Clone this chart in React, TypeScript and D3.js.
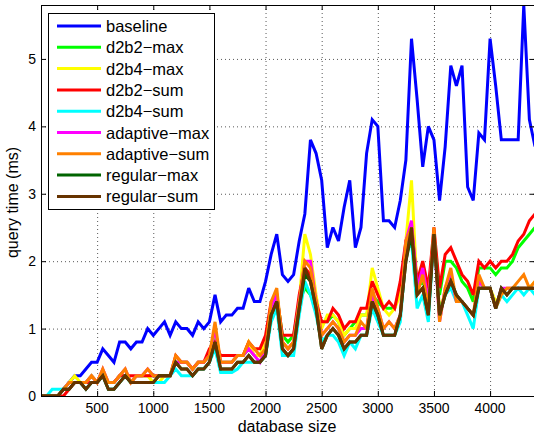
import React from "react";
import * as d3 from "d3";

// database sizes (x)
const sizes = [
  0, 50, 100, 150, 200, 250, 300, 350, 400, 450,
  500, 550, 600, 650, 700, 750, 800, 850, 900, 950,
  1000, 1050, 1100, 1150, 1200, 1250, 1300, 1350, 1400, 1450,
  1500, 1550, 1600, 1650, 1700, 1750, 1800, 1850, 1900, 1950,
  2000, 2050, 2100, 2150, 2200, 2250, 2300, 2350, 2400, 2450,
  2500, 2550, 2600, 2650, 2700, 2750, 2800, 2850, 2900, 2950,
  3000, 3050, 3100, 3150, 3200, 3250, 3300, 3350, 3400, 3450,
  3500, 3550, 3600, 3650, 3700, 3750, 3800, 3850, 3900, 3950,
  4000, 4050, 4100, 4150, 4200, 4250, 4300, 4350, 4400,
];

const baseline = [
  0, 0, 0, 0, 0.1, 0.2, 0.3, 0.3, 0.4, 0.5,
  0.5, 0.7, 0.6, 0.5, 0.8, 0.8, 0.7, 0.8, 0.8, 1.0,
  0.9, 1.0, 1.1, 0.9, 1.1, 1.0, 1.0, 0.9, 1.1, 1.0,
  1.1, 1.5, 1.1, 1.2, 1.2, 1.3, 1.3, 1.6, 1.4, 1.4,
  1.7, 2.1, 2.4, 1.8, 1.7, 1.8, 2.3, 2.7, 3.8, 3.6,
  3.2, 2.2, 2.5, 2.3, 2.8, 3.2, 2.2, 2.5, 3.6, 4.1,
  4.0, 2.6, 2.6, 2.5, 2.9, 3.5, 5.3, 4.4, 3.4, 4.0,
  3.8, 2.9, 3.7, 4.9, 4.6, 4.9, 3.1, 2.9, 3.9, 3.8,
  5.3, 4.6, 3.8, 3.8, 3.8, 3.8, 5.8, 4.1, 3.7,
];

const d2b2Max = [
  0, 0, 0, 0, 0.1, 0.2, 0.2, 0.2, 0.2, 0.3,
  0.2, 0.3, 0.2, 0.2, 0.3, 0.3, 0.2, 0.3, 0.3, 0.3,
  0.3, 0.3, 0.3, 0.3, 0.5, 0.5, 0.5, 0.4, 0.5, 0.5,
  0.6, 0.9, 0.5, 0.5, 0.5, 0.6, 0.6, 0.7, 0.6, 0.6,
  0.8, 1.3, 1.5, 0.9, 0.8, 0.9, 1.4, 1.6, 1.5, 1.3,
  1.1, 1.1, 1.2, 1.1, 0.9, 1.0, 1.1, 1.2, 1.2, 1.5,
  1.4, 1.3, 1.3, 1.3, 1.6, 2.2, 2.4, 1.6, 1.7, 1.5,
  2.4, 1.5, 2.0, 2.0, 1.9, 1.7, 1.6, 1.4, 1.9, 1.9,
  1.9, 1.8, 1.9, 1.9, 2.0, 2.2, 2.3, 2.4, 2.5,
];

const d2b4Max = [
  0, 0, 0, 0, 0.1, 0.2, 0.3, 0.2, 0.2, 0.3,
  0.2, 0.4, 0.2, 0.2, 0.3, 0.4, 0.2, 0.3, 0.3, 0.3,
  0.2, 0.2, 0.3, 0.3, 0.5, 0.5, 0.5, 0.4, 0.5, 0.5,
  0.6, 1.0, 0.5, 0.5, 0.5, 0.6, 0.6, 0.8, 0.6, 0.6,
  0.8, 1.3, 1.5, 0.8, 0.7, 0.8, 1.4, 2.4, 2.1, 1.5,
  1.0, 1.2, 1.2, 1.1, 0.9, 1.0, 1.0, 1.2, 1.2, 1.9,
  1.6, 1.3, 1.2, 1.3, 1.5, 2.3, 3.2, 1.6, 1.8, 1.4,
  2.4, 1.3, 1.5, 1.7, 1.4, 1.4, 1.3, 1.2, 1.7, 1.6,
  1.6, 1.4, 1.5, 1.6, 1.6, 1.6, 1.6, 1.6, 1.7,
];

const d2b2Sum = [
  0, 0, 0, 0, 0, 0.1, 0.2, 0.2, 0.2, 0.2,
  0.2, 0.3, 0.2, 0.2, 0.3, 0.3, 0.3, 0.3, 0.3, 0.3,
  0.3, 0.3, 0.3, 0.3, 0.6, 0.5, 0.5, 0.4, 0.5, 0.5,
  0.7, 0.8, 0.6, 0.6, 0.6, 0.6, 0.6, 0.8, 0.7, 0.7,
  0.9, 1.4, 1.5, 0.9, 0.9, 0.9, 1.5, 1.9, 1.8, 1.4,
  1.1, 1.1, 1.3, 1.2, 1.0, 1.1, 1.1, 1.3, 1.3, 1.7,
  1.5, 1.3, 1.4, 1.3, 1.7, 2.3, 2.5, 1.7, 2.0, 1.6,
  2.5, 1.6, 2.1, 2.2, 2.0, 1.8, 1.7, 1.5, 2.0, 1.9,
  2.0, 1.9, 2.0, 2.0, 2.1, 2.3, 2.4, 2.6, 2.7,
];

const d2b4Sum = [
  0, 0, 0.1, 0.1, 0.1, 0.2, 0.2, 0.2, 0.1, 0.2,
  0.2, 0.3, 0.1, 0.1, 0.2, 0.3, 0.2, 0.2, 0.2, 0.2,
  0.2, 0.2, 0.2, 0.3, 0.4, 0.3, 0.3, 0.3, 0.4, 0.4,
  0.5, 0.7, 0.35, 0.35, 0.35, 0.4, 0.5, 0.5, 0.5, 0.5,
  0.6, 1.1, 1.3, 0.6, 0.6, 0.6, 1.2, 1.7, 1.5, 1.2,
  0.8, 0.9, 0.9, 0.8, 0.6, 0.8, 0.7, 0.9, 0.9, 1.3,
  1.1, 0.9, 0.9, 0.9, 1.1, 2.1, 2.3, 1.3, 1.5, 1.1,
  2.4, 1.2, 1.5, 1.6, 1.4, 1.4, 1.2, 1.0, 1.6, 1.6,
  1.6, 1.3, 1.5, 1.4, 1.5, 1.6, 1.5, 1.6, 1.5,
];

const adaptiveMax = [
  0, 0, 0, 0, 0.1, 0.2, 0.2, 0.2, 0.2, 0.3,
  0.2, 0.4, 0.2, 0.2, 0.3, 0.4, 0.2, 0.3, 0.3, 0.4,
  0.3, 0.3, 0.3, 0.3, 0.5, 0.5, 0.5, 0.4, 0.5, 0.5,
  0.6, 1.0, 0.5, 0.5, 0.5, 0.6, 0.6, 0.7, 0.6, 0.5,
  0.7, 1.3, 1.5, 0.8, 0.7, 0.8, 1.4, 2.0, 2.0, 1.4,
  0.9, 1.0, 1.1, 1.0, 0.8, 0.9, 0.9, 1.0, 1.0, 1.5,
  1.3, 1.0, 1.1, 1.0, 1.2, 2.3, 2.6, 1.6, 1.9, 1.4,
  2.4, 1.1, 1.6, 1.8, 1.4, 1.4, 1.3, 1.2, 1.7, 1.6,
  1.6, 1.3, 1.6, 1.6, 1.6, 1.6, 1.6, 1.6, 1.6,
];

const adaptiveSum = [
  0, 0, 0, 0, 0.1, 0.2, 0.2, 0.2, 0.2, 0.3,
  0.2, 0.4, 0.2, 0.2, 0.3, 0.4, 0.2, 0.3, 0.3, 0.4,
  0.3, 0.3, 0.3, 0.3, 0.6, 0.5, 0.5, 0.4, 0.5, 0.5,
  0.6, 1.1, 0.5, 0.5, 0.5, 0.6, 0.6, 0.8, 0.7, 0.6,
  0.7, 1.4, 1.6, 0.8, 0.7, 0.8, 1.4, 2.0, 1.9, 1.4,
  0.9, 1.0, 1.1, 1.0, 0.8, 0.9, 0.9, 1.1, 1.0, 1.6,
  1.3, 1.0, 1.1, 1.0, 1.2, 2.3, 2.5, 1.5, 1.8, 1.3,
  2.5, 1.1, 1.6, 1.9, 1.4, 1.4, 1.3, 1.2, 1.8, 1.6,
  1.6, 1.3, 1.5, 1.6, 1.6, 1.7, 1.8, 1.6, 1.7,
];

const regularMax = [
  0, 0, 0, 0, 0.1, 0.1, 0.2, 0.2, 0.1, 0.2,
  0.2, 0.3, 0.1, 0.1, 0.2, 0.3, 0.2, 0.2, 0.2, 0.2,
  0.2, 0.3, 0.3, 0.3, 0.5, 0.4, 0.4, 0.3, 0.4, 0.4,
  0.5, 0.8, 0.4, 0.4, 0.4, 0.5, 0.5, 0.6, 0.5, 0.5,
  0.6, 1.2, 1.4, 0.7, 0.6, 0.7, 1.3, 1.8, 1.7, 1.3,
  0.7, 0.9, 1.0, 0.9, 0.7, 0.8, 0.8, 0.9, 0.9, 1.4,
  1.2, 0.9, 0.9, 0.9, 1.2, 2.0, 2.4, 1.5, 1.6, 1.2,
  2.4, 1.2, 1.5, 1.7, 1.5, 1.4, 1.3, 1.2, 1.6, 1.6,
  1.6, 1.3, 1.6, 1.5, 1.6, 1.6, 1.6, 1.6, 1.6,
];

const regularSum = [
  0, 0, 0, 0, 0.1, 0.1, 0.2, 0.2, 0.1, 0.2,
  0.2, 0.3, 0.1, 0.1, 0.2, 0.3, 0.2, 0.2, 0.2, 0.2,
  0.2, 0.3, 0.3, 0.3, 0.5, 0.4, 0.4, 0.3, 0.4, 0.4,
  0.5, 0.8, 0.4, 0.4, 0.4, 0.5, 0.5, 0.6, 0.5, 0.5,
  0.6, 1.2, 1.4, 0.7, 0.6, 0.7, 1.3, 1.9, 1.7, 1.3,
  0.7, 0.9, 1.0, 0.9, 0.7, 0.8, 0.8, 0.9, 0.9, 1.4,
  1.2, 0.9, 0.9, 0.9, 1.2, 2.0, 2.5, 1.5, 1.6, 1.2,
  2.4, 1.2, 1.5, 1.7, 1.5, 1.4, 1.3, 1.2, 1.6, 1.6,
  1.6, 1.3, 1.6, 1.5, 1.6, 1.6, 1.6, 1.6, 1.6,
];

const seriesNames = [
  "baseline", "d2b2−max", "d2b4−max", "d2b2−sum", "d2b4−sum",
  "adaptive−max", "adaptive−sum", "regular−max", "regular−sum",
];
const seriesValues = [
  baseline, d2b2Max, d2b4Max, d2b2Sum, d2b4Sum,
  adaptiveMax, adaptiveSum, regularMax, regularSum,
];
const seriesColors = [
  "#0000ff", "#00ff00", "#ffff00", "#ff0000", "#00ffff",
  "#ff00ff", "#ff8000", "#006400", "#663300",
];

const xTicks = [500, 1000, 1500, 2000, 2500, 3000, 3500, 4000];
const yTicks = [0, 1, 2, 3, 4, 5];

const W = 534;
const H = 438;
const left = 41, right = 535, top = 5, bottom = 396;
const font = "'Liberation Sans', Arial, Helvetica, sans-serif";

export default function App() {
  const x = d3.scaleLinear().domain([0, 4400]).range([left, right]);
  const y = d3.scaleLinear().domain([0, 5.8]).range([bottom, top]);

  const line = d3
    .line<number>()
    .x((d, i) => x(sizes[i]))
    .y((d) => y(d));

  const tickLen = 5;

  return (
    <svg
      width={W}
      height={H}
      style={{ position: "absolute", left: 0, top: 0, background: "#fff" }}
      fontFamily={font}
    >
      <defs>
        <clipPath id="plot">
          <rect x={left} y={top} width={right - left} height={bottom - top} />
        </clipPath>
      </defs>
      <rect x={0} y={0} width={W} height={H} fill="#fff" />

      {/* dotted grid */}
      <g stroke="#222" strokeWidth={1} strokeDasharray="1,3" opacity={0.75}>
        {xTicks.map((t) => (
          <line key={"gx" + t} x1={x(t) + 0.5} x2={x(t) + 0.5} y1={top} y2={bottom} />
        ))}
        {yTicks.filter((t) => t > 0).map((t) => (
          <line key={"gy" + t} x1={left} x2={right} y1={y(t) + 0.5} y2={y(t) + 0.5} />
        ))}
      </g>

      {/* series */}
      <g clipPath="url(#plot)" fill="none" strokeWidth={3} strokeLinejoin="miter" strokeMiterlimit={3}>
        {seriesValues.map((vals, k) => (
          <path key={seriesNames[k]} d={line(vals) || ""} stroke={seriesColors[k]} />
        ))}
      </g>

      {/* axes box and inward ticks */}
      <rect x={left + 0.5} y={top + 0.5} width={right - left} height={bottom - top} fill="none" stroke="#000" strokeWidth={1} />
      <g stroke="#000" strokeWidth={1}>
        {xTicks.map((t) => (
          <g key={"tx" + t}>
            <line x1={x(t) + 0.5} x2={x(t) + 0.5} y1={bottom} y2={bottom - tickLen} />
            <line x1={x(t) + 0.5} x2={x(t) + 0.5} y1={top} y2={top + tickLen} />
          </g>
        ))}
        {yTicks.map((t) => (
          <g key={"ty" + t}>
            <line x1={left} x2={left + tickLen} y1={y(t) + 0.5} y2={y(t) + 0.5} />
            <line x1={right} x2={right - tickLen} y1={y(t) + 0.5} y2={y(t) + 0.5} />
          </g>
        ))}
      </g>

      {/* tick labels */}
      <g fontSize={14} fill="#000">
        {xTicks.map((t) => (
          <text key={"lx" + t} x={x(t)} y={bottom + 17} textAnchor="middle">
            {t}
          </text>
        ))}
        {yTicks.map((t) => (
          <text key={"ly" + t} x={left - 5} y={y(t) + 5} textAnchor="end">
            {t}
          </text>
        ))}
      </g>

      {/* axis labels */}
      <text x={(left + right) / 2 - 1} y={432} textAnchor="middle" fontSize={16}>
        database size
      </text>
      <text
        transform={`translate(18, ${(top + bottom) / 2 + 2}) rotate(-90)`}
        textAnchor="middle"
        fontSize={16}
      >
        query time (ms)
      </text>

      {/* legend */}
      <g>
        <rect x={48.5} y={13.5} width={166} height={196} fill="#fff" stroke="#000" strokeWidth={1} />
        {seriesNames.map((name, k) => {
          const ly = 26 + k * 21.3;
          return (
            <g key={"lg" + name}>
              <line x1={57} x2={101} y1={ly} y2={ly} stroke={seriesColors[k]} strokeWidth={3} />
              <text x={106} y={ly + 6} fontSize={16.5}>
                {name}
              </text>
            </g>
          );
        })}
      </g>
    </svg>
  );
}
